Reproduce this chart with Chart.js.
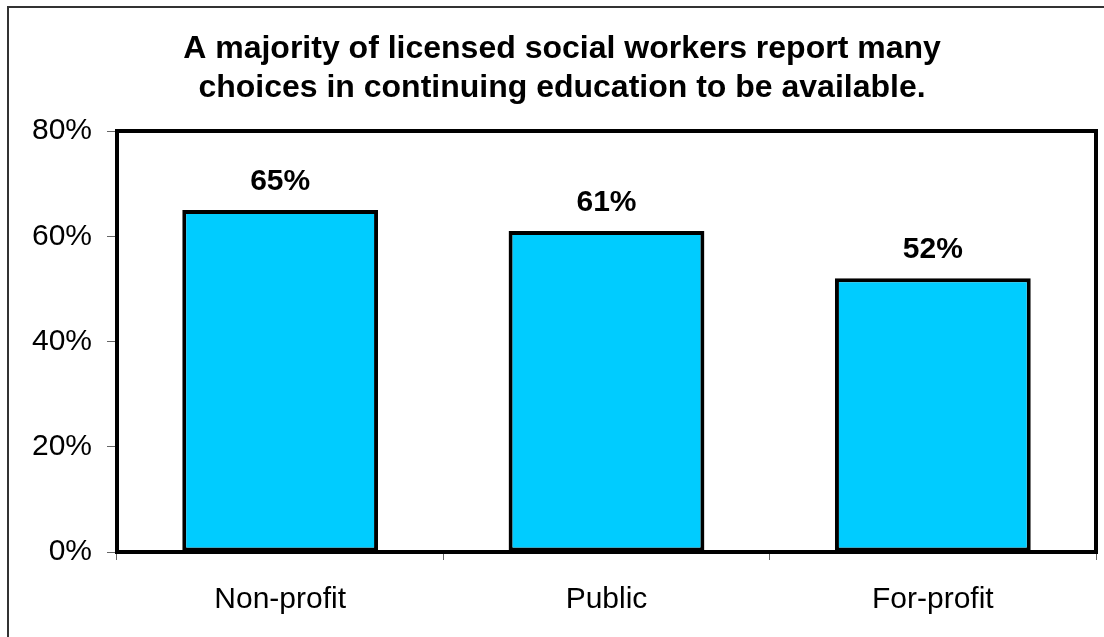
<!DOCTYPE html>
<html>
<head>
<meta charset="utf-8">
<script src="https://cdn.jsdelivr.net/npm/chart.js@4"></script>
<style>
    html, body { margin: 0; padding: 0; background: #fff; }
    #wrap { width: 1104px; height: 637px; position: relative; }
</style>
</head>
<body>
<div id="wrap"><canvas id="chart" width="1104" height="637"></canvas></div>
<script>
const categories = ['Non-profit', 'Public', 'For-profit'];
const values = [65, 61, 52];
const titleLines = [
    'A majority of licensed social workers report many',
    'choices in continuing education to be available.'
];
const yTicks = [0, 20, 40, 60, 80];

const FONT = '"Liberation Sans", Arial, sans-serif';

// outer frame (only top and left show in the picture) + title
const framePlugin = {
    id: 'frame',
    beforeDraw(chart) {
        const c = chart.ctx;
        c.save();
        c.fillStyle = '#fff';
        c.fillRect(0, 0, chart.width, chart.height);
        c.strokeStyle = '#333';
        c.lineWidth = 2;
        c.beginPath();
        c.moveTo(8, chart.height);
        c.lineTo(8, 7);
        c.lineTo(chart.width, 7);
        c.stroke();

        c.fillStyle = '#000';
        c.font = 'bold 32px ' + FONT;
        c.textAlign = 'center';
        c.textBaseline = 'alphabetic';
        c.fillText(titleLines[0], 562, 58);
        c.fillText(titleLines[1], 562, 97);
        c.restore();
    },
    afterDatasetsDraw(chart) {
        const c = chart.ctx;
        const a = chart.chartArea;
        c.save();
        c.strokeStyle = '#000';
        c.lineWidth = 4;
        c.strokeRect(a.left, a.top, a.right - a.left, a.bottom - a.top);

        // value labels above bars
        const meta = chart.getDatasetMeta(0);
        c.fillStyle = '#000';
        c.font = 'bold 30px ' + FONT;
        c.textAlign = 'center';
        c.textBaseline = 'alphabetic';
        meta.data.forEach((bar, i) => {
            c.fillText(values[i] + '%', bar.x, bar.y - 20);
        });
        c.restore();
    }
};

new Chart(document.getElementById('chart'), {
    type: 'bar',
    data: {
        labels: categories,
        datasets: [{
            data: values,
            backgroundColor: '#00CCFF',
            borderColor: '#000',
            borderWidth: 4,
            borderSkipped: false,
            barPercentage: 0.6,
            categoryPercentage: 1.0
        }]
    },
    options: {
        responsive: false,
        animation: false,
        layout: {
            padding: { left: 0, top: 131, right: 8, bottom: 0 }
        },
        plugins: {
            legend: { display: false },
            title: { display: false },
            tooltip: { enabled: false }
        },
        scales: {
            y: {
                min: 0,
                max: 80,
                afterBuildTicks(axis) {
                    axis.ticks = yTicks.map(v => ({ value: v }));
                },
                afterFit(axis) { axis.width = 117; },
                border: { display: false },
                grid: {
                    drawOnChartArea: false,
                    drawTicks: true,
                    tickLength: 10,
                    color: '#666',
                    lineWidth: 1
                },
                ticks: {
                    padding: 15,
                    color: '#000',
                    font: { family: FONT, size: 30 },
                    callback: v => v + '%'
                }
            },
            x: {
                afterFit(axis) { axis.height = 85; },
                border: { display: false },
                grid: {
                    offset: true,
                    drawOnChartArea: false,
                    drawTicks: true,
                    tickLength: 8,
                    color: '#666',
                    lineWidth: 1
                },
                ticks: {
                    padding: 22,
                    color: '#000',
                    font: { family: FONT, size: 30 }
                }
            }
        }
    },
    plugins: [framePlugin]
});
</script>
</body>
</html>
